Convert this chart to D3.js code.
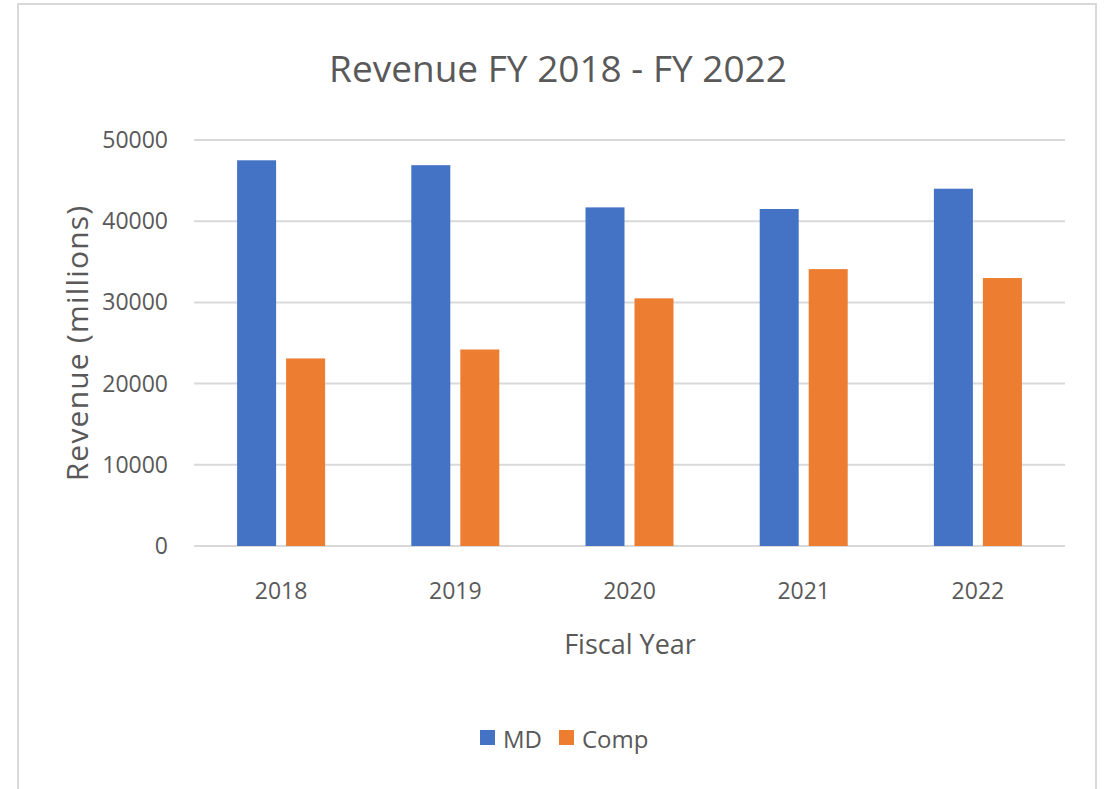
<!DOCTYPE html>
<html><head><meta charset="utf-8">
<script src="https://cdn.jsdelivr.net/npm/d3@7"></script>
<style>
html,body{margin:0;padding:0;background:#fff;}
text{font-family:"Liberation Sans Narrow","Open Sans",sans-serif;fill:#595959;}
</style></head>
<body><svg id="c" width="1107" height="789"></svg>
<script>
const years = ["2018","2019","2020","2021","2022"];
const seriesNames = ["MD","Comp"];
const mdValues = [47500, 46900, 41700, 41500, 44000];
const compValues = [23100, 24200, 30500, 34100, 33000];
const yTicks = [0, 10000, 20000, 30000, 40000, 50000];
const colors = ["#4472c4", "#ed7d31"];
const title = "Revenue FY 2018 - FY 2022";
const xTitle = "Fiscal Year";
const yTitle = "Revenue (millions)";

const svg = d3.select("#c");
// chart border
svg.append("rect").attr("x",18).attr("y",4).attr("width",1078).attr("height",800)
  .attr("fill","#fff").attr("stroke","#d9d9d9").attr("stroke-width",2);

const pLeft = 194, pRight = 1065, pTop = 140, pBottom = 546;
const x = d3.scaleBand().domain(years).range([pLeft, pRight]).paddingInner(0).paddingOuter(0);
const y = d3.scaleLinear().domain([0, 50000]).range([pBottom, pTop]);

// gridlines
svg.append("g").selectAll("line").data(yTicks).join("line")
  .attr("x1", pLeft).attr("x2", pRight)
  .attr("y1", d => y(d)).attr("y2", d => y(d))
  .attr("stroke", "#d9d9d9").attr("stroke-width", 2);

// y tick labels
svg.append("g").selectAll("text").data(yTicks).join("text")
  .attr("x", 168).attr("y", d => y(d)).attr("dy","0.35em")
  .attr("text-anchor","end").attr("font-size",23).text(d => d);

// bars
const barW = 39, gap = 10;
const data = years.map((yr,i)=>({yr, vals:[mdValues[i], compValues[i]]}));
const groups = svg.append("g").selectAll("g").data(data).join("g");
groups.selectAll("rect").data(d => d.vals.map((v,j)=>({yr:d.yr, v, j}))).join("rect")
  .attr("x", d => x(d.yr) + x.bandwidth()/2 - (barW*2+gap)/2 + d.j*(barW+gap))
  .attr("width", barW)
  .attr("y", d => y(d.v))
  .attr("height", d => y(0) - y(d.v))
  .attr("fill", d => colors[d.j]);

// x tick labels
svg.append("g").selectAll("text").data(years).join("text")
  .attr("x", d => x(d) + x.bandwidth()/2).attr("y", 599)
  .attr("text-anchor","middle").attr("font-size",23).text(d => d);

// title
svg.append("text").attr("x", 558).attr("y", 82).attr("text-anchor","middle")
  .attr("font-size",37).text(title);
// axis titles
svg.append("text").attr("x", 630).attr("y", 654).attr("text-anchor","middle")
  .attr("font-size",27).text(xTitle);
svg.append("text").attr("transform","translate(88,343) rotate(-90)").attr("text-anchor","middle")
  .attr("font-size",30).attr("letter-spacing",1.2).text(yTitle);

// legend
const leg = svg.append("g");
const legX = [480, 559];
seriesNames.forEach((n,i)=>{
  leg.append("rect").attr("x", legX[i]).attr("y", 730).attr("width",15).attr("height",15).attr("fill",colors[i]);
  leg.append("text").attr("x", legX[i]+23).attr("y", 748).attr("font-size",24).text(n);
});
</script></body></html>
